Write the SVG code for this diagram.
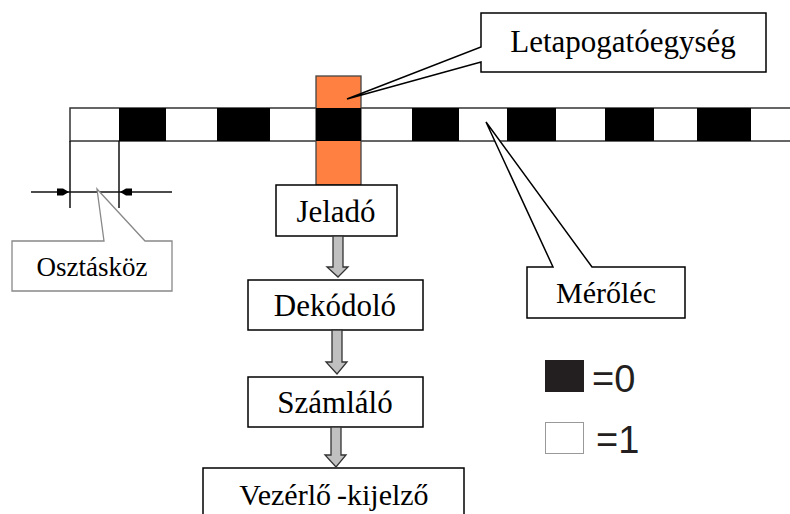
<svg xmlns="http://www.w3.org/2000/svg" width="790" height="514" viewBox="0 0 790 514">
<style>
.lbl{font-family:"Liberation Serif","Times New Roman",serif;fill:#000;text-anchor:middle}
.box{fill:#fff;stroke:#000;stroke-width:1.5}
.blk{fill:#000}
.arr{fill:#c0c0c0;stroke:#333;stroke-width:1.3}
.leg{font-family:"Liberation Sans",Arial,sans-serif;fill:#231f20}
</style>
<rect width="790" height="514" fill="#fff"/>
<g id="merolec">
<rect x="70" y="108" width="730" height="33" fill="#fff" stroke="#333" stroke-width="1.5"/>
<rect class="blk" x="119" y="108" width="47" height="33"/>
<rect class="blk" x="217" y="108" width="53" height="33"/>
<rect class="blk" x="412" y="108" width="47" height="33"/>
<rect class="blk" x="507" y="108" width="49" height="33"/>
<rect class="blk" x="605" y="108" width="49" height="33"/>
<rect class="blk" x="697" y="108" width="54" height="33"/>
</g>
<g id="letapogato-oszlop">
<rect x="316" y="76" width="45" height="109" fill="#ff8040" stroke="#444" stroke-width="1.3"/>
<rect class="blk" x="316" y="108" width="45" height="33"/>
</g>
<g id="osztaskoz-meret">
<line x1="70" y1="141" x2="70" y2="208" stroke="#111" stroke-width="1.5"/>
<line x1="119" y1="141" x2="119" y2="208" stroke="#111" stroke-width="1.5"/>
<line x1="31" y1="192" x2="172" y2="192" stroke="#111" stroke-width="1.5"/>
<path d="M57,188.5 H63 L69,192 L63,195.5 H57 Z" fill="#000"/>
<path d="M132,188.5 H126 L120,192 L126,195.5 H132 Z" fill="#000"/>
</g>
<g id="letapogatoegyseg">
<path class="box" d="M481,13 H766 V72 H481 V62 L347,99 L481,47 Z"/>
<text class="lbl" x="623" y="52" font-size="31">Letapogatóegység</text>
</g>
<g id="merolec-cimke">
<path class="box" d="M527,267 H553 L486,122 L592,267 H685 V318 H527 Z" stroke-width="1.3"/>
<text class="lbl" x="606" y="303" font-size="30">Mérőléc</text>
</g>
<g id="osztaskoz">
<path d="M12,241 H104 L97,189 L145,241 H172 V291 H12 Z" fill="#fff" stroke="#888" stroke-width="1.3"/>
<text class="lbl" x="92" y="276" font-size="27">Osztásköz</text>
</g>
<g id="jelado">
<rect class="box" x="276" y="185" width="121" height="51"/>
<text class="lbl" x="336" y="222" font-size="31">Jeladó</text>
</g>
<g id="dekodolo">
<rect class="box" x="248" y="280" width="175" height="50"/>
<text class="lbl" x="335" y="316" font-size="31">Dekódoló</text>
</g>
<g id="szamlalo">
<rect class="box" x="248" y="377" width="175" height="50"/>
<text class="lbl" x="335" y="413" font-size="31">Számláló</text>
</g>
<g id="vezerlo-kijelzo">
<rect class="box" x="203" y="468" width="261" height="60"/>
<text class="lbl" x="334" y="505" font-size="30">Vezérlő<tspan dx="6">-kijelző</tspan></text>
</g>
<g id="connectors">
<path class="arr" d="M333,236 H343 V267 H348 L338,277 L327,267 H333 Z"/>
<path class="arr" d="M332,330 H342 V362 H347 L337,374 L326,362 H332 Z"/>
<path class="arr" d="M331,427 H341 V455 H346 L336,467 L325,455 H331 Z"/>
</g>
<g id="jelmagyarazat">
<rect x="545" y="360" width="39" height="32" fill="#231f20"/>
<text class="leg" x="592" y="392" font-size="38">=0</text>
<rect x="545.5" y="422.5" width="38" height="31" fill="#fff" stroke="#999" stroke-width="1"/>
<text class="leg" x="596" y="453" font-size="38">=1</text>
</g>
</svg>
